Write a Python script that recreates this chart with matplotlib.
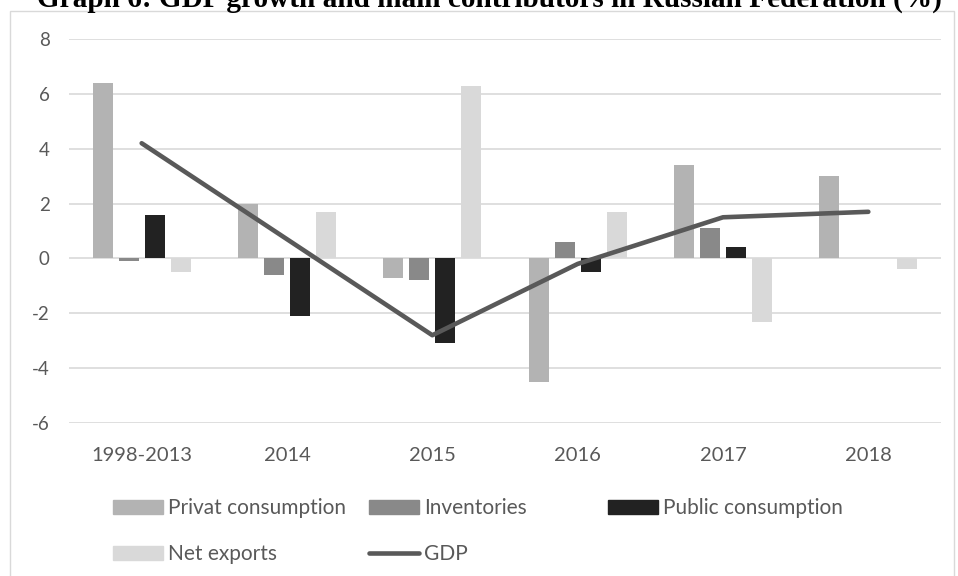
import numpy as np
import matplotlib.pyplot as plt
from matplotlib.patches import Rectangle, Patch
from matplotlib.lines import Line2D

years = ['1998-2013', '2014', '2015', '2016', '2017', '2018']
privat = [6.4, 2.0, -0.7, -4.5, 3.4, 3.0]
inventories = [-0.1, -0.6, -0.8, 0.6, 1.1, 0.0]
public = [1.6, -2.1, -3.1, -0.5, 0.4, 0.0]
net_exports = [-0.5, 1.7, 6.3, 1.7, -2.3, -0.4]
gdp = [4.2, 0.7, -2.8, -0.2, 1.5, 1.7]

series = [
    ('Privat consumption', privat, '#b3b3b3'),
    ('Inventories', inventories, '#898989'),
    ('Public consumption', public, '#222222'),
    ('Net exports', net_exports, '#d9d9d9'),
]
gdp_color = '#595959'
text_color = '#595959'

plt.rcParams['font.family'] = ['Lato', 'DejaVu Sans']
plt.rcParams['axes.unicode_minus'] = False

fig = plt.figure(figsize=(9.58, 5.76), dpi=100)
ax = fig.add_axes([69 / 958, 1 - 423 / 576, 872 / 958, 384 / 576])

x = np.arange(len(years))
width = 0.138
step = 0.179
for i, (name, vals, color) in enumerate(series):
    ax.bar(x + (i - 1.5) * step, vals, width, color=color, zorder=2)

ax.plot(x, gdp, color=gdp_color, lw=3.3, solid_capstyle='round',
        solid_joinstyle='round', zorder=3)

ax.set_xlim(-0.5, len(years) - 0.5)
ax.set_ylim(-6, 8)
ax.set_yticks(range(-6, 9, 2))
ax.set_xticks(x)
ax.set_xticklabels(years)
ax.tick_params(length=0, labelcolor=text_color)
ax.tick_params(axis='y', pad=14, labelsize=13.5)
ax.tick_params(axis='x', pad=17, labelsize=14.5)
ax.grid(axis='y', color='#d9d9d9', lw=1.2, zorder=0)
ax.set_axisbelow(True)
for s in ax.spines.values():
    s.set_visible(False)

# chart frame
fig.patches.append(Rectangle((10 / 958, -0.05), 944 / 958, 1.05 - 11 / 576,
                             transform=fig.transFigure, fill=False,
                             edgecolor='#d9d9d9', lw=1.0))

fig.text(489 / 958, 1 - 7 / 576, 'Graph 6: GDP growth and main contributors in Russian Federation (%)',
         ha='center', va='baseline', fontsize=21.1, fontweight='bold',
         family='Liberation Serif')

# legend, three columns placed side by side
cols = [
    (113, [Patch(color='#b3b3b3'), Patch(color='#d9d9d9')], ['Privat consumption', 'Net exports']),
    (369, [Patch(color='#898989'),
           Line2D([], [], color=gdp_color, lw=3.3, solid_capstyle='round')],
     ['Inventories', 'GDP']),
    (608, [Patch(color='#222222')], ['Public consumption']),
]
for xpos, handles, labels in cols:
    fig.legend(handles, labels, loc='upper left',
               bbox_to_anchor=(xpos / 958, 1 - 498 / 576),
               frameon=False, fontsize=15, labelcolor=text_color,
               handlelength=2.4, handleheight=0.65, handletextpad=0.25,
               labelspacing=1.25, borderaxespad=0, borderpad=0)

fig.savefig('out.png', dpi=100)
